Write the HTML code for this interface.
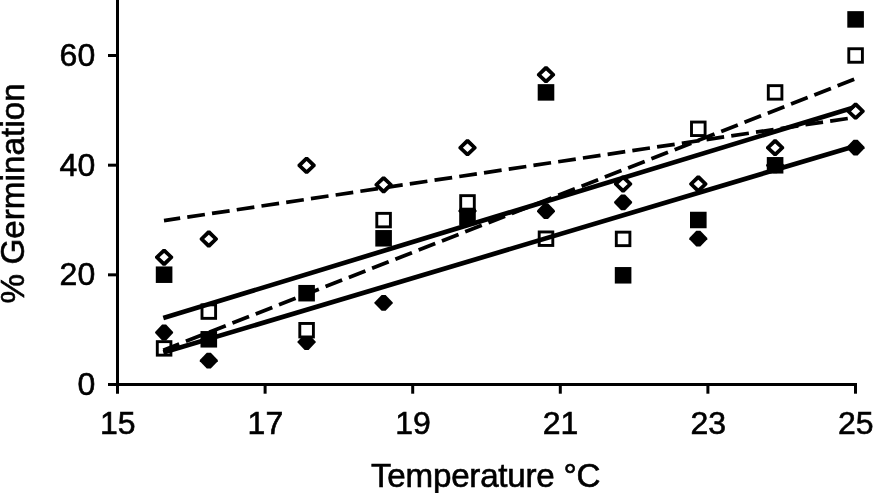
<!DOCTYPE html>
<html lang="en">
<head>
<meta charset="utf-8">
<title>% Germination vs Temperature</title>
<style>
html,body{margin:0;padding:0;background:#fff;}
body{width:873px;height:493px;overflow:hidden;position:relative;}
svg{position:absolute;left:0;top:0;display:block;}
text{font-family:"Liberation Sans",sans-serif;font-size:33.2px;fill:#000;stroke:#000;stroke-width:0.6;}
.tk text{font-size:32px;}
.ax{stroke:#000;stroke-width:3;fill:none;}
.ln{stroke:#000;stroke-width:4.7;fill:none;}
.d1{stroke-width:3.7;stroke-dasharray:17.8 7.2;stroke-dashoffset:1.46;}
.d2{stroke-width:3.8;stroke-dasharray:17.8 7.2;stroke-dashoffset:0.72;}
.fs{fill:#000;}
.os{fill:#fff;stroke:#000;stroke-width:2.9;}
.fd{fill:#000;}
.od{fill:#000;fill-rule:evenodd;}
.odw{fill:#fff;}
</style>
</head>
<body>
<svg width="873" height="493" viewBox="0 0 873 493">
<rect x="0" y="0" width="873" height="493" fill="#fff"/>
<defs>
<polygon id="fd" points="-2,-7.9 2,-7.9 9,-0.6 9,0.6 2,7.9 -2,7.9 -9,0.6 -9,-0.6"/>
<path id="od" d="M-1.3,-8.4 L1.3,-8.4 L9.1,-0.8 L9.1,0.8 L1.3,8.4 L-1.3,8.4 L-9.1,0.8 L-9.1,-0.8 Z M0,-4.3 L-4.6,0 L0,4.3 L4.6,0 Z"/>
<polygon id="odw" points="0,-4.5 -4.8,0 0,4.5 4.8,0"/>
</defs>
<!-- axes -->
<g class="ax">
<line x1="117.5" y1="0" x2="117.5" y2="393.7"/>
<line x1="108" y1="384.5" x2="857" y2="384.5"/>
<line x1="108" y1="274.84" x2="117.5" y2="274.84"/>
<line x1="108" y1="165.18" x2="117.5" y2="165.18"/>
<line x1="108" y1="55.52" x2="117.5" y2="55.52"/>
<line x1="265.1" y1="384.5" x2="265.1" y2="393.7"/>
<line x1="412.7" y1="384.5" x2="412.7" y2="393.7"/>
<line x1="560.3" y1="384.5" x2="560.3" y2="393.7"/>
<line x1="707.9" y1="384.5" x2="707.9" y2="393.7"/>
<line x1="855.5" y1="384.5" x2="855.5" y2="393.7"/>
</g>
<!-- tick labels -->
<g text-anchor="end" class="tk">
<text x="95.2" y="395.1">0</text>
<text x="95.2" y="285.44">20</text>
<text x="95.2" y="175.78">40</text>
<text x="95.2" y="66.12">60</text>
</g>
<g text-anchor="middle" class="tk">
<text x="117.8" y="434.2">15</text>
<text x="265.4" y="434.2">17</text>
<text x="413" y="434.2">19</text>
<text x="560.6" y="434.2">21</text>
<text x="708.2" y="434.2">23</text>
<text x="855.8" y="434.2">25</text>
</g>
<text x="371" y="486.8" textLength="229.5" lengthAdjust="spacing">Temperature °C</text>
<text transform="translate(24.4,303.4) rotate(-90)" textLength="220" lengthAdjust="spacing">% Germination</text>
<!-- filled diamonds -->
<g class="fd">
<use href="#fd" x="164.1" y="332.5"/>
<use href="#fd" x="208.8" y="360.6"/>
<use href="#fd" x="306.6" y="342"/>
<use href="#fd" x="383.6" y="302.9"/>
<use href="#fd" x="467.5" y="211"/>
<use href="#fd" x="546" y="211.2"/>
<use href="#fd" x="623.1" y="202.4"/>
<use href="#fd" x="698.3" y="238.7"/>
<use href="#fd" x="775.1" y="165.3"/>
<use href="#fd" x="855.6" y="147.7"/>
</g>
<!-- filled squares -->
<g class="fs">
<rect x="155.8" y="266.45" width="16.6" height="16.5"/>
<rect x="200.5" y="331.05" width="16.6" height="16.5"/>
<rect x="298.3" y="284.95" width="16.6" height="16.5"/>
<rect x="375.3" y="230.05" width="16.6" height="16.5"/>
<rect x="459.2" y="208.65" width="16.6" height="16.5"/>
<rect x="537.7" y="84.15" width="16.6" height="16.5"/>
<rect x="614.8" y="267.05" width="16.6" height="16.5"/>
<rect x="690" y="211.75" width="16.6" height="16.5"/>
<rect x="766.8" y="157.05" width="16.6" height="16.5"/>
<rect x="847.3" y="11.15" width="16.6" height="16.5"/>
</g>
<!-- open squares -->
<g class="os">
<rect x="157.3" y="341.65" width="13.6" height="13.5"/>
<rect x="202" y="304.85" width="13.6" height="13.5"/>
<rect x="299.8" y="323.45" width="13.6" height="13.5"/>
<rect x="376.8" y="213.35" width="13.6" height="13.5"/>
<rect x="460.7" y="195.65" width="13.6" height="13.5"/>
<rect x="539.2" y="231.95" width="13.6" height="13.5"/>
<rect x="616.3" y="232.15" width="13.6" height="13.5"/>
<rect x="691.5" y="122.05" width="13.6" height="13.5"/>
<rect x="768.3" y="85.65" width="13.6" height="13.5"/>
<rect x="848.8" y="48.75" width="13.6" height="13.5"/>
</g>
<!-- trend lines -->
<line class="ln" x1="163.3" y1="318" x2="855.5" y2="107"/>
<line class="ln" x1="163.3" y1="352.6" x2="855.5" y2="145.9"/>
<line class="ln d1" x1="164" y1="220.6" x2="855.5" y2="117.3"/>
<line class="ln d2" x1="163.3" y1="350.2" x2="855.5" y2="78.8"/>
<!-- open diamonds -->
<g>
<use class="odw" href="#odw" x="164.1" y="257.3"/><use class="od" href="#od" x="164.1" y="257.3"/>
<use class="odw" href="#odw" x="208.8" y="239"/><use class="od" href="#od" x="208.8" y="239"/>
<use class="odw" href="#odw" x="306.6" y="165.4"/><use class="od" href="#od" x="306.6" y="165.4"/>
<use class="odw" href="#odw" x="383.6" y="184.8"/><use class="od" href="#od" x="383.6" y="184.8"/>
<use class="odw" href="#odw" x="467.5" y="147.7"/><use class="od" href="#od" x="467.5" y="147.7"/>
<use class="odw" href="#odw" x="546" y="74.7"/><use class="od" href="#od" x="546" y="74.7"/>
<use class="odw" href="#odw" x="623.1" y="184"/><use class="od" href="#od" x="623.1" y="184"/>
<use class="odw" href="#odw" x="698.3" y="184"/><use class="od" href="#od" x="698.3" y="184"/>
<use class="odw" href="#odw" x="775.1" y="147.7"/><use class="od" href="#od" x="775.1" y="147.7"/>
<use class="odw" href="#odw" x="855.6" y="111.2"/><use class="od" href="#od" x="855.6" y="111.2"/>
</g>
</svg>
</body>
</html>
